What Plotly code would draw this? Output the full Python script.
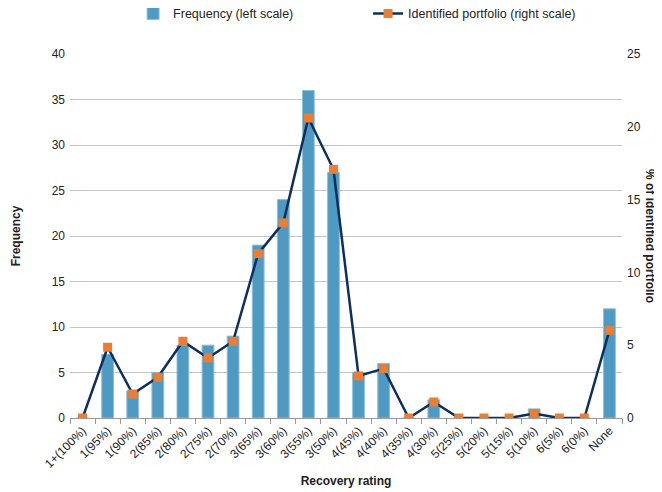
import plotly.graph_objects as go

categories = ["1+(100%)", "1(95%)", "1(90%)", "2(85%)", "2(80%)", "2(75%)", "2(70%)",
              "3(65%)", "3(60%)", "3(55%)", "3(50%)", "4(45%)", "4(40%)", "4(35%)",
              "4(30%)", "5(25%)", "5(20%)", "5(15%)", "5(10%)", "6(5%)", "6(0%)", "None"]
frequency = [0, 7, 3, 5, 8, 8, 9, 19, 24, 36, 27, 5, 6, 0, 2, 0, 0, 0, 1, 0, 0, 12]
portfolio_pct = [0, 4.86, 1.65, 2.8, 5.27, 4.12, 5.27, 11.29, 13.4, 20.6, 17.08, 2.89, 3.39,
                 0, 1.1, 0, 0, 0, 0.3, 0, 0, 6.02]

font_family = "Liberation Sans, Arial, sans-serif"

fig = go.Figure()
fig.add_trace(go.Bar(
    x=categories, y=frequency, name="Frequency (left scale)",
    marker=dict(color="#4f9ac3", line=dict(color="#8cc0dc", width=1)),
    yaxis="y",
))
fig.add_trace(go.Scatter(
    x=categories, y=portfolio_pct, name="Identified portfolio (right scale)",
    mode="lines+markers",
    line=dict(color="#0c2f60", width=2.5),
    marker=dict(symbol="square", color="#ed7d31", size=9),
    yaxis="y2",
))

fig.update_layout(
    width=654, height=484,
    margin=dict(l=62, r=40, t=46, b=74, autoexpand=False),
    plot_bgcolor="white", paper_bgcolor="white",
    font=dict(family=font_family, size=12, color="#222"),
    bargap=0.53,
    showlegend=True,
    legend=dict(orientation="h", x=0.54, xanchor="center", xref="paper",
                y=0.988, yanchor="middle", yref="container",
                font=dict(size=12.5), traceorder="normal", entrywidth=190,
                entrywidthmode="pixels"),
    xaxis=dict(
        title=dict(text="<b>Recovery rating</b>", font=dict(size=12), standoff=6),
        range=[-0.5, 21.5],
        tickangle=-45, ticks="outside", tickson="boundaries", ticklen=5,
        tickcolor="#999", showline=True, linecolor="#999", linewidth=1,
        showgrid=False, tickfont=dict(size=12), automargin=False,
    ),
    yaxis=dict(
        title=dict(text="<b>Frequency</b>", font=dict(size=12), standoff=28),
        range=[0, 40], dtick=5, showgrid=True, gridcolor="#c4c4c4", gridwidth=1,
        zeroline=False, tickfont=dict(size=12), ticks="", ticklabelstandoff=4,
        automargin=False,
    ),
    yaxis2=dict(
        overlaying="y", side="right", range=[0, 25], dtick=5, showgrid=False,
        zeroline=False, tickfont=dict(size=12), ticklabelstandoff=4, automargin=False,
    ),
    annotations=[dict(
        text="<b>% of identified portfolio</b>", textangle=90,
        x=1.0, xref="paper", xshift=28, y=0.5, yref="paper",
        showarrow=False, font=dict(size=12), xanchor="center", yanchor="middle",
    )],
)

fig.write_html("out.html")
